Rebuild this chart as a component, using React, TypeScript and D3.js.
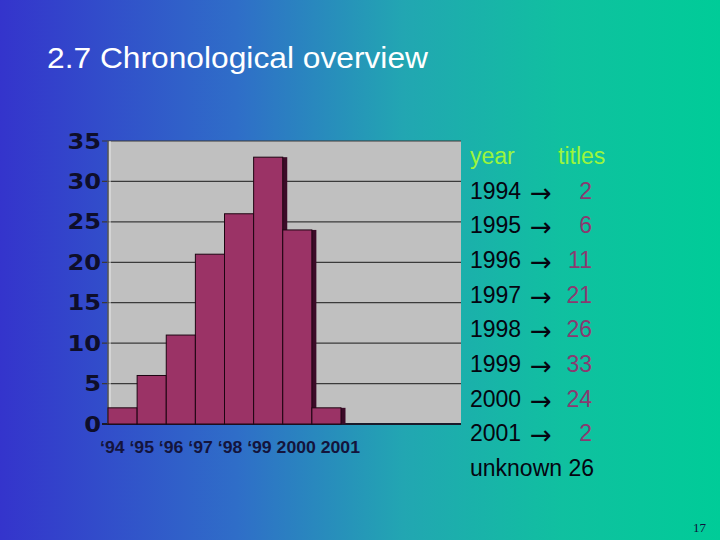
import { useEffect, useRef } from "react";
import * as d3 from "d3";

const years = ["1994", "1995", "1996", "1997", "1998", "1999", "2000", "2001"];
const titles = [2, 6, 11, 21, 26, 33, 24, 2];
const axisLabels = ["\u201894", "\u201895", "\u201896", "\u201897", "\u201898", "\u201899", "2000", "2001"];
const yTicks = [0, 5, 10, 15, 20, 25, 30, 35];
const unknownCount = 26;

const W = 720;
const H = 540;

export default function App() {
  const svgRef = useRef<SVGSVGElement | null>(null);

  useEffect(() => {
    if (!svgRef.current) return;
    const svg = d3.select(svgRef.current);
    svg.selectAll("*").remove();

    // slide background
    const defs = svg.append("defs");
    const bg = defs.append("linearGradient").attr("id", "bg-grad")
      .attr("x1", "0%").attr("y1", "0%").attr("x2", "100%").attr("y2", "0%");
    [["0%", "#3434cc"], ["33%", "#2f6ec8"], ["56%", "#22a6b2"], ["78%", "#10c0a0"], ["100%", "#00cc98"]]
      .forEach(([o, c]) => bg.append("stop").attr("offset", o).attr("stop-color", c));
    svg.append("rect").attr("width", W).attr("height", H).attr("fill", "url(#bg-grad)");

    svg.append("text")
      .attr("x", 47).attr("y", 68)
      .attr("fill", "#ffffff")
      .attr("font-family", "Liberation Sans, Arial, sans-serif")
      .attr("font-size", 30)
      .attr("textLength", 381)
      .attr("lengthAdjust", "spacingAndGlyphs")
      .text("2.7 Chronological overview");

    // chart
    const plotLeft = 108, plotRight = 461, plotTop = 141, plotBottom = 424;
    const x = d3.scaleBand<string>().domain(years).range([plotLeft, 341]).padding(0);
    const y = d3.scaleLinear().domain([0, 35]).range([plotBottom, plotTop]);

    const g = svg.append("g");
    g.append("rect")
      .attr("x", plotLeft).attr("y", plotTop)
      .attr("width", plotRight - plotLeft).attr("height", plotBottom - plotTop)
      .attr("fill", "#c0c0c0");

    g.append("g").selectAll("line")
      .data(yTicks)
      .join("line")
      .attr("x1", plotLeft - 6).attr("x2", plotRight)
      .attr("y1", d => y(d)).attr("y2", d => y(d))
      .attr("stroke", d => (d === 0 ? "#1a1a2a" : "#3a3a3a"))
      .attr("stroke-width", d => (d === 0 ? 2 : 1.2));

    g.append("line")
      .attr("x1", plotLeft).attr("x2", plotLeft)
      .attr("y1", plotTop).attr("y2", plotBottom)
      .attr("stroke", "#555").attr("stroke-width", 1.5);
    g.append("line")
      .attr("x1", plotLeft + 2).attr("x2", plotLeft + 2)
      .attr("y1", plotTop).attr("y2", plotBottom)
      .attr("stroke", "#e8e8e8").attr("stroke-width", 1);

    g.append("g").selectAll("text")
      .data(yTicks)
      .join("text")
      .attr("transform", d => `translate(101, ${y(d) + 7.5}) scale(1.15, 1)`)
      .attr("text-anchor", "end")
      .attr("fill", "#0e0e2a")
      .attr("font-family", "DejaVu Sans, sans-serif")
      .attr("font-weight", "bold")
      .attr("font-size", 21)
      .text(d => d);

    const bars = g.append("g").selectAll("g")
      .data(years.map((yr, i) => ({ yr, v: titles[i] })))
      .join("g");
    bars.append("rect")
      .attr("x", d => (x(d.yr) as number) + x.bandwidth() - 1)
      .attr("y", d => y(d.v))
      .attr("width", 5.5)
      .attr("height", d => plotBottom - y(d.v))
      .attr("fill", "#3c0b28");
    bars.append("rect")
      .attr("x", d => x(d.yr) as number)
      .attr("y", d => y(d.v))
      .attr("width", x.bandwidth())
      .attr("height", d => plotBottom - y(d.v))
      .attr("fill", "#9b3366")
      .attr("stroke", "#1e0512")
      .attr("stroke-width", 1);

    svg.append("text")
      .attr("x", 100).attr("y", 453)
      .attr("fill", "#14143c")
      .attr("font-family", "Liberation Sans, Arial, sans-serif")
      .attr("font-weight", "bold")
      .attr("font-size", 16)
      .attr("textLength", 260)
      .attr("lengthAdjust", "spacingAndGlyphs")
      .text(axisLabels.join(" "));

    // value table
    const rowY = d3.scaleLinear().domain([0, 9]).range([164, 476]);
    const font = "Liberation Sans, Arial, sans-serif";
    const table = svg.append("g").attr("font-family", font).attr("font-size", 23);
    table.append("text").attr("x", 470).attr("y", rowY(0)).attr("fill", "#9cf53c").text("year");
    table.append("text").attr("x", 558).attr("y", rowY(0)).attr("fill", "#9cf53c").text("titles");

    const rows = table.selectAll("g.row")
      .data(years.map((yr, i) => ({ yr, v: titles[i], i })))
      .join("g").attr("class", "row");
    rows.append("text").attr("x", 470).attr("y", d => rowY(d.i + 1)).attr("fill", "#050510").text(d => d.yr);
    rows.append("text").attr("x", 530).attr("y", d => rowY(d.i + 1) + 3).attr("fill", "#050510")
      .attr("font-family", "DejaVu Sans, sans-serif").attr("font-size", 26).text("\u2192");
    rows.append("text").attr("x", 592).attr("y", d => rowY(d.i + 1)).attr("text-anchor", "end")
      .attr("fill", "#8a3a70").text(d => d.v);
    table.append("text").attr("x", 470).attr("y", rowY(9)).attr("fill", "#050510")
      .text(`unknown ${unknownCount}`);

    svg.append("text")
      .attr("x", 706).attr("y", 532)
      .attr("text-anchor", "end")
      .attr("fill", "#10103a")
      .attr("font-family", "Liberation Serif, serif")
      .attr("font-size", 13)
      .text("17");
  }, []);

  return (
    <div style={{ position: "fixed", left: 0, top: 0, width: W, height: H }}>
      <svg ref={svgRef} width={W} height={H} style={{ display: "block" }} />
    </div>
  );
}
